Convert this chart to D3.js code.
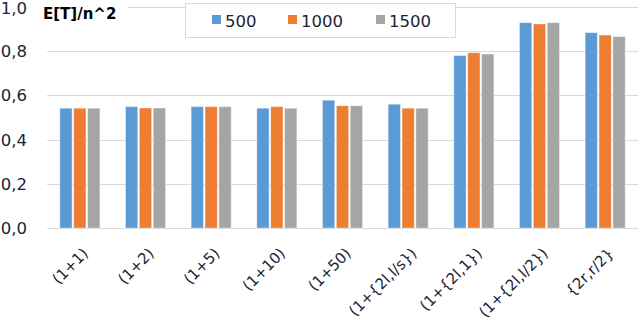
<!DOCTYPE html>
<html>
<head>
<meta charset="utf-8">
<style>
  body { margin: 0; background: #fff; }
  text { font-family: "DejaVu Sans", sans-serif; fill: #1e2433; }
  .grid line { stroke: #d9d9d9; }
</style>
</head>
<body>
<script src="https://cdn.jsdelivr.net/npm/d3@7"></script>
<script>
const categories = ["(1+1)", "(1+2)", "(1+5)", "(1+10)", "(1+50)", "(1+{2l,l/s})", "(1+{2l,1})", "(1+{2l,l/2})", "{2r,r/2}"];
const seriesNames = ["500", "1000", "1500"];
const s500  = [0.542, 0.549, 0.549, 0.542, 0.578, 0.560, 0.780, 0.929, 0.884];
const s1000 = [0.542, 0.543, 0.549, 0.549, 0.553, 0.542, 0.793, 0.923, 0.873];
const s1500 = [0.542, 0.543, 0.549, 0.542, 0.553, 0.542, 0.787, 0.929, 0.866];
const yTicks = [0, 0.2, 0.4, 0.6, 0.8, 1.0];
const colors = ["#5b9bd5", "#ed7d31", "#a5a5a5"];

const W = 640, H = 325;
const plot = { left: 47, right: 638, top: 7, bottom: 228 };

const svg = d3.select("body").append("svg").attr("width", W).attr("height", H);

const x0 = d3.scaleBand().domain(categories).range([plot.left, plot.right]);
const x1 = d3.scaleBand().domain(seriesNames).range([x0.bandwidth() / 2 - 20, x0.bandwidth() / 2 + 20]).paddingInner(0.12);
const y = d3.scaleLinear().domain([0, 1]).range([plot.bottom, plot.top]);

// gridlines
svg.append("g").attr("class", "grid")
  .selectAll("line").data(yTicks).enter().append("line")
  .attr("x1", plot.left).attr("x2", plot.right)
  .attr("y1", d => Math.round(y(d)) + 0.5).attr("y2", d => Math.round(y(d)) + 0.5);

// y labels
svg.append("g").selectAll("text").data(yTicks).enter().append("text")
  .attr("x", 27).attr("y", d => Math.max(y(d) + 6, 14))
  .attr("text-anchor", "end")
  .style("font-size", "16.5px")
  .text(d => d3.format(".1f")(d).replace(".", ","));

// bars
const series = [s500, s1000, s1500];
const rows = categories.map((c, i) => ({ cat: c, vals: seriesNames.map((s, j) => ({ s, v: series[j][i], c: colors[j] })) }));
svg.append("g").selectAll("g").data(rows).enter().append("g")
  .attr("transform", d => `translate(${x0(d.cat)},0)`)
  .selectAll("rect").data(d => d.vals).enter().append("rect")
  .attr("x", d => x1(d.s))
  .attr("width", x1.bandwidth())
  .attr("y", d => y(d.v))
  .attr("height", d => y(0) - y(d.v))
  .attr("fill", d => d.c)
  .attr("stroke", "#fff").attr("stroke-opacity", 0.35).attr("stroke-width", 1);

// x labels
svg.append("g").selectAll("text").data(categories).enter().append("text")
  .attr("transform", d => `translate(${x0(d) + x0.bandwidth() / 2 + 2},${plot.bottom + 19}) rotate(-45)`)
  .attr("text-anchor", "end")
  .attr("dy", "0.7em")
  .style("font-size", "15px")
  .text(d => d);

// title
const title = svg.append("g");
title.append("rect").attr("x", 40).attr("y", 0).attr("width", 88).attr("height", 24).attr("fill", "#fff");
title.append("text").attr("x", 43).attr("y", 19)
  .style("font-size", "15px").style("font-weight", "bold").style("fill", "#000")
  .text("E[T]/n^2");

// legend
const lg = svg.append("g");
lg.append("rect").attr("x", 185.5).attr("y", 3.5).attr("width", 270).attr("height", 34)
  .attr("fill", "#fff").attr("stroke", "#d9d9d9");
const legX = [212, 288, 376];
seriesNames.forEach((s, i) => {
  lg.append("rect").attr("x", legX[i]).attr("y", 15).attr("width", 9).attr("height", 9).attr("fill", colors[i]);
  lg.append("text").attr("x", legX[i] + 13).attr("y", 27).style("font-size", "16.5px").text(s);
});
</script>
</body>
</html>
